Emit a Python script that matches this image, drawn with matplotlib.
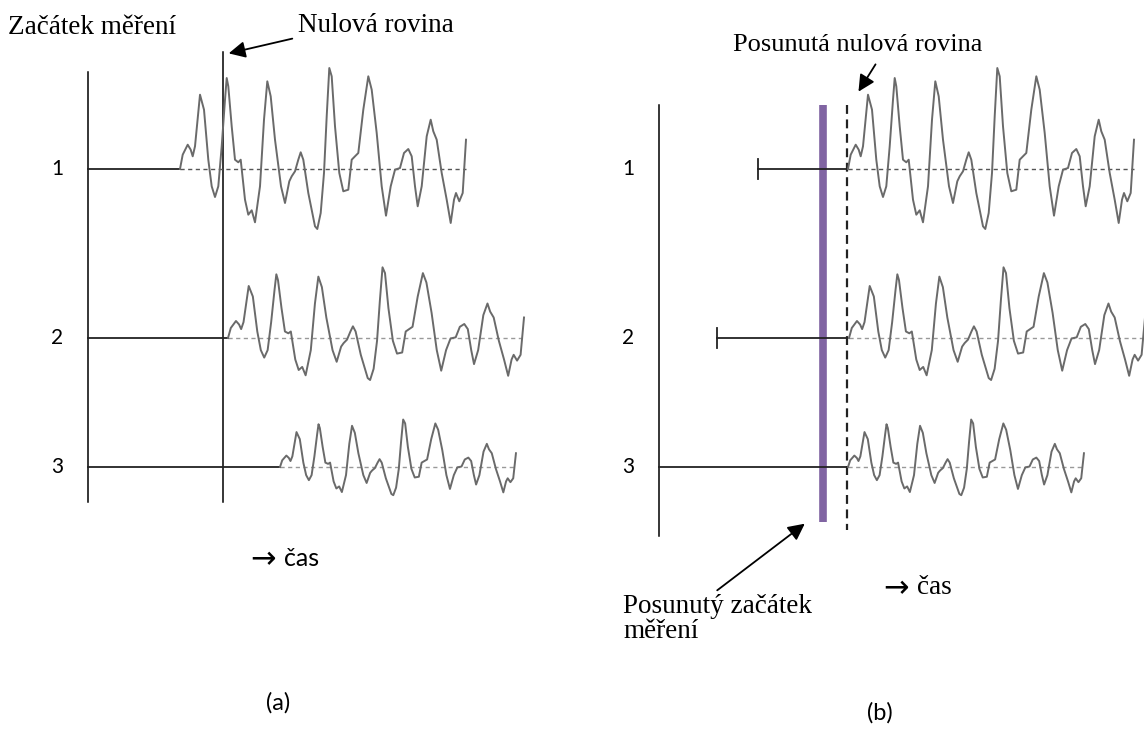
import matplotlib.pyplot as plt

# one recorded signal: offset from start of recording (px) and amplitude (px, up = +)
wave_dx = [0, 2.7, 7.7, 10.7, 12.7, 15, 20, 24, 28.3, 31.7, 35, 38.3, 41.7, 45, 46.7,
           48.3, 51.7, 55, 58.3, 60.7, 65, 68.3, 71.7, 75, 80, 84, 87.3, 90.7, 95, 101,
           105, 109.3, 111.7, 115, 118.3, 120.7, 123.3, 128.3, 135, 137.3, 140.7, 144,
           146.7, 149.3, 151.7, 155, 159.3, 163.3, 168.3, 171.7, 175, 178.3, 183.3,
           188.3, 191.7, 196.7, 201.7, 206, 210.7, 215, 220, 224, 228.3, 231.7, 235,
           237.7, 241.7, 246.7, 250.7, 253.3, 256.7, 261.7, 266.7, 270.7, 274, 276,
           279.3, 282.7, 286]
wave_amp = [0, 14.3, 24.3, 19.3, 12.7, 22.7, 74.3, 59.3, 9.3, -17.3, -28, -17.3, 22.7,
            69.3, 91, 82.7, 42.7, 9.3, 6.7, 9.3, -30.7, -45.7, -41.3, -53.3, -17.3, 49.3,
            87.7, 72.7, 29.3, -17.3, -34, -12.3, -7.3, -2.3, 9.3, 16.7, 9.3, -24, -57.3,
            -60, -44, -4, 52.7, 101, 92.7, 42.7, -4, -22.3, -20.7, 9.3, 12.7, 16, 59.3,
            92.7, 79.3, 36, -17.3, -46.7, -17.3, -0.7, 1, 16, 20, 12.7, -17.3, -37.3,
            -17.3, 32.7, 49.3, 37.7, 29.3, -4, -30.7, -54, -30.7, -24, -32.3, -24, 29.3]

rows = ['1', '2', '3']
row_y = [169, 338, 467]
row_xscale = [1.0, 1.035, 0.825]
row_yscale = [1.0, 0.70, 0.47]
start_a = [180, 228, 280]   # recording start, panel (a)
start_b = [848, 849, 848]   # recording start after shifting, panel (b)
pre_b = [758, 717, 659]     # left end of the pre-trigger segment in (b)

SERIF = ['Liberation Serif', 'DejaVu Serif']
SANS = ['Lato', 'DejaVu Sans']

fig = plt.figure(figsize=(11.44, 7.31), dpi=100)
ax = fig.add_axes([0, 0, 1, 1])
ax.set_xlim(0, 1144)
ax.set_ylim(731, 0)
ax.axis('off')

arrow_kw = dict(arrowstyle='-|>', color='black', lw=1.3, mutation_scale=25)


def draw_signal(x0, y0, sx, sy, dash_col):
    xs = [x0 + d * sx for d in wave_dx]
    ys = [y0 - a * sy for a in wave_amp]
    ax.plot([xs[0], xs[-1]], [y0, y0], color=dash_col, lw=1.0, ls=(0, (3, 2.5)))
    ax.plot(xs, ys, color='#6a6a6a', lw=1.4, solid_joinstyle='round')


# ---- panel (a)
ax.plot([88, 88], [72, 502], color='black', lw=1.1)
ax.plot([223, 223], [52, 502], color='black', lw=1.1)
for i, lab in enumerate(rows):
    ax.text(57, row_y[i], lab, family=SANS, fontsize=15, ha='center', va='center')
    ax.plot([88, start_a[i]], [row_y[i], row_y[i]], color='#222222', lw=1.3)
    draw_signal(start_a[i], row_y[i], row_xscale[i], row_yscale[i],
                '#555555' if i == 0 else '#999999')

ax.text(8, 27, 'Začátek měření', family=SERIF, fontsize=19.5, ha='left', va='center')
ax.text(298, 25, 'Nulová rovina', family=SERIF, fontsize=19.5, ha='left', va='center')
ax.annotate('', xy=(226, 54), xytext=(295, 38), arrowprops=arrow_kw)
ax.text(245, 558, r'$\rightarrow$', fontsize=22, ha='left', va='center')
ax.text(284, 559, 'čas', family=SANS, fontsize=18, ha='left', va='center')
ax.text(278, 703, '(a)', family=SANS, fontsize=17, ha='center', va='center')

# ---- panel (b)
ax.plot([659, 659], [105, 536], color='black', lw=1.1)
ax.plot([823, 823], [105, 522], color='#8064a2', lw=5.5, solid_capstyle='butt')
ax.plot([847, 847], [105, 530], color='#222222', lw=1.6, ls=(0, (4, 2.5)))
for i, lab in enumerate(rows):
    y = row_y[i]
    ax.text(628, y, lab, family=SANS, fontsize=15, ha='center', va='center')
    ax.plot([pre_b[i], 847], [y, y], color='#222222', lw=1.3)
    if pre_b[i] > 659:
        ax.plot([pre_b[i], pre_b[i]], [y - 10, y + 10], color='#222222', lw=1.3)
    draw_signal(start_b[i], y, row_xscale[i], row_yscale[i],
                '#555555' if i == 0 else '#999999')

ax.text(733, 45, 'Posunutá nulová rovina', family=SERIF, fontsize=19,
        ha='left', va='center')
ax.annotate('', xy=(857, 94), xytext=(877, 62), arrowprops=arrow_kw)
ax.text(623, 619, 'Posunutý začátek\nměření', family=SERIF, fontsize=19.5,
        ha='left', va='center', linespacing=1.05)
ax.annotate('', xy=(807, 522), xytext=(715, 592), arrowprops=arrow_kw)
ax.text(878, 587, r'$\rightarrow$', fontsize=22, ha='left', va='center')
ax.text(917, 587, 'čas', family=SERIF, fontsize=19.5, ha='left', va='center')
ax.text(880, 713, '(b)', family=SANS, fontsize=17, ha='center', va='center')

fig.savefig('out.png', dpi=100)
